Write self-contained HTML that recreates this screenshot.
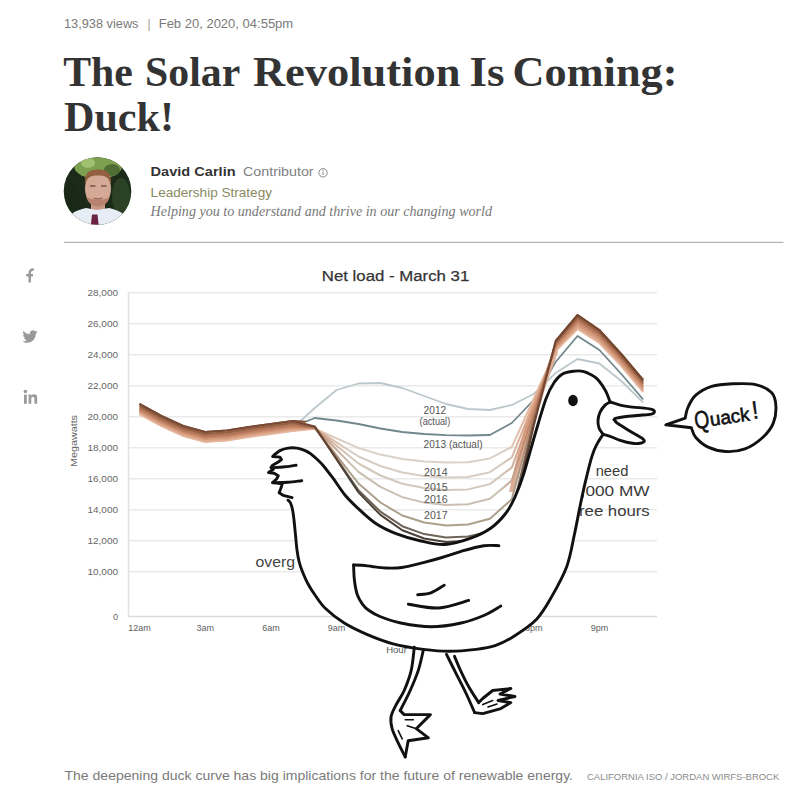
<!DOCTYPE html>
<html><head><meta charset="utf-8"><style>
html,body{margin:0;padding:0;background:#fff;width:795px;height:800px;overflow:hidden}
svg{display:block}
</style></head><body>
<svg width="795" height="800" viewBox="0 0 795 800">
<g font-family="'Liberation Sans', sans-serif">
<text x="64" y="28.3" font-size="12" fill="#7a7a7a" textLength="74.5" lengthAdjust="spacingAndGlyphs">13,938 views</text>
<text x="147.6" y="28.3" font-size="12" fill="#9a9a9a">|</text>
<text x="158.7" y="28.3" font-size="12" fill="#7a7a7a" textLength="134.5" lengthAdjust="spacingAndGlyphs">Feb 20, 2020, 04:55pm</text>
<g font-family="'Liberation Serif', serif" font-weight="bold" font-size="42" fill="#333"><text x="63.2" y="85.8" textLength="69.6" lengthAdjust="spacingAndGlyphs">The</text><text x="145.0" y="85.8" textLength="95.2" lengthAdjust="spacingAndGlyphs">Solar</text><text x="253.0" y="85.8" textLength="207.4" lengthAdjust="spacingAndGlyphs">Revolution</text><text x="469.6" y="85.8" textLength="35" lengthAdjust="spacingAndGlyphs">Is</text><text x="512.6" y="85.8" textLength="164.8" lengthAdjust="spacingAndGlyphs">Coming:</text></g>
<text x="64" y="131.3" font-family="'Liberation Serif', serif" font-weight="bold" font-size="42" fill="#333" textLength="110" lengthAdjust="spacingAndGlyphs">Duck!</text>
<text x="150.6" y="176" font-size="13" font-weight="bold" fill="#333" textLength="85" lengthAdjust="spacingAndGlyphs">David Carlin</text>
<text x="243" y="176" font-size="13" fill="#808080" textLength="70.6" lengthAdjust="spacingAndGlyphs">Contributor</text>
<circle cx="323" cy="172.8" r="4.2" fill="none" stroke="#888" stroke-width="1"/>
<line x1="323" y1="171.5" x2="323" y2="175" stroke="#888" stroke-width="1"/>
<circle cx="323" cy="170.2" r="0.6" fill="#888"/>
<text x="150.6" y="196.5" font-size="13" fill="#8a8a62" textLength="121.4" lengthAdjust="spacingAndGlyphs">Leadership Strategy</text>
<text x="150.6" y="216" font-family="'Liberation Serif', serif" font-style="italic" font-size="14" fill="#777" textLength="341.4" lengthAdjust="spacingAndGlyphs">Helping you to understand and thrive in our changing world</text>
<line x1="64" y1="242.4" x2="783.5" y2="242.4" stroke="#b4b4b4" stroke-width="1.3"/>
<text x="64.5" y="780" font-size="12.2" fill="#7a7a7a" textLength="508.5" lengthAdjust="spacingAndGlyphs">The deepening duck curve has big implications for the future of renewable energy.</text>
<text x="587" y="780" font-size="9" fill="#8a8a8a" textLength="192.3" lengthAdjust="spacingAndGlyphs">CALIFORNIA ISO / JORDAN WIRFS-BROCK</text>
</g>
<!-- avatar -->
<defs><clipPath id="av"><circle cx="97.5" cy="191" r="33.8"/></clipPath></defs>
<g clip-path="url(#av)">
<rect x="60" y="155" width="76" height="74" fill="#1c2a19"/>
<ellipse cx="98" cy="166" rx="24" ry="13" fill="#7c9f50"/>
<ellipse cx="88" cy="163" rx="7" ry="5" fill="#a0c070"/>
<ellipse cx="112" cy="170" rx="8" ry="6" fill="#4e6e36"/>
<ellipse cx="121" cy="196" rx="9" ry="18" fill="#2c4226"/>
<ellipse cx="72" cy="198" rx="7" ry="16" fill="#1a2818"/>
<rect x="91" y="200" width="14" height="14" fill="#c99888"/>
<path d="M60,236 C62,218 72,211 86,208 L97,210 L109,208 C123,211 132,218 135,236Z" fill="#e6edf5"/>
<ellipse cx="98" cy="188.5" rx="13" ry="17.5" fill="#d4a996"/><path d="M86,196 C88,204 93,206.5 98,206.5 C103,206.5 108,204 110,196 C106,201 90,201 86,196Z" fill="#b98270"/>
<path d="M85,184 C84,172 90,169.5 98,169.5 C106,169.5 112,172 111,184 C109,177 105,175.5 98,175.5 C91,175.5 87,177 85,184Z" fill="#93603f"/>
<path d="M90,186 h5.5 M101,186 h5.5" stroke="#7a5444" stroke-width="1.3"/>
<path d="M93.5,198 q4.5,1.8 9,0" stroke="#8a5a4a" stroke-width="1.1" fill="none"/>
<path d="M92,214.5 L97.5,214.5 L99,228 L90.5,228Z" fill="#6a2441"/>
</g>
<!-- social icons -->
<g fill="#9a9a9a">
<path d="M29.7,282.6 V273.6 C29.7,270.6 30.9,269.3 33.8,269.5 M26.2,275.3 H33" stroke="#9a9a9a" stroke-width="2.5" fill="none"/>
<path transform="translate(30.5 336.5) scale(1.07) translate(-30.5 -336.5)" d="M37,332 c-0.5,0.3 -1.1,0.4 -1.6,0.5 c0.6,-0.4 1,-0.9 1.2,-1.6 c-0.5,0.3 -1.1,0.6 -1.8,0.7 c-0.5,-0.6 -1.3,-0.9 -2.1,-0.9 c-1.6,0 -2.9,1.3 -2.9,2.9 c0,0.2 0,0.4 0.1,0.7 c-2.4,-0.1 -4.6,-1.3 -6,-3 c-0.3,0.4 -0.4,0.9 -0.4,1.5 c0,1 0.5,1.9 1.3,2.4 c-0.5,0 -0.9,-0.1 -1.3,-0.4 c0,1.4 1,2.6 2.3,2.9 c-0.4,0.1 -0.9,0.2 -1.3,0.1 c0.4,1.2 1.4,2 2.7,2 c-1,0.8 -2.3,1.3 -3.6,1.3 c-0.2,0 -0.5,0 -0.7,0 c1.3,0.8 2.8,1.3 4.4,1.3 c5.3,0 8.2,-4.4 8.2,-8.2 l0,-0.4 c0.6,-0.4 1,-0.9 1.4,-1.5z"/>
<rect x="24" y="394.6" width="2.8" height="9.2"/><circle cx="25.4" cy="391.6" r="1.75"/><path d="M28.6,403.8 V394.6 H31.3 V395.9 C32,394.7 33.2,394.3 34.4,394.3 C36.3,394.3 37.2,395.6 37.2,397.9 V403.8 H34.4 V398.7 C34.4,397.4 33.9,396.7 32.8,396.7 C31.8,396.7 31.3,397.5 31.3,398.7 V403.8Z"/>
</g>
<g font-family="'Liberation Sans', sans-serif">
<line x1="128" y1="292.8" x2="657" y2="292.8" stroke="#eaeaea" stroke-width="1.6"/>
<text x="118" y="296.4" text-anchor="end" font-size="9.6" fill="#666" textLength="30.5" lengthAdjust="spacingAndGlyphs">28,000</text>
<line x1="128" y1="323.8" x2="657" y2="323.8" stroke="#eaeaea" stroke-width="1.6"/>
<text x="118" y="327.4" text-anchor="end" font-size="9.6" fill="#666" textLength="30.5" lengthAdjust="spacingAndGlyphs">26,000</text>
<line x1="128" y1="354.8" x2="657" y2="354.8" stroke="#eaeaea" stroke-width="1.6"/>
<text x="118" y="358.4" text-anchor="end" font-size="9.6" fill="#666" textLength="30.5" lengthAdjust="spacingAndGlyphs">24,000</text>
<line x1="128" y1="385.8" x2="657" y2="385.8" stroke="#eaeaea" stroke-width="1.6"/>
<text x="118" y="389.4" text-anchor="end" font-size="9.6" fill="#666" textLength="30.5" lengthAdjust="spacingAndGlyphs">22,000</text>
<line x1="128" y1="416.8" x2="657" y2="416.8" stroke="#eaeaea" stroke-width="1.6"/>
<text x="118" y="420.4" text-anchor="end" font-size="9.6" fill="#666" textLength="30.5" lengthAdjust="spacingAndGlyphs">20,000</text>
<line x1="128" y1="447.8" x2="657" y2="447.8" stroke="#eaeaea" stroke-width="1.6"/>
<text x="118" y="451.4" text-anchor="end" font-size="9.6" fill="#666" textLength="30.5" lengthAdjust="spacingAndGlyphs">18,000</text>
<line x1="128" y1="478.8" x2="657" y2="478.8" stroke="#eaeaea" stroke-width="1.6"/>
<text x="118" y="482.4" text-anchor="end" font-size="9.6" fill="#666" textLength="30.5" lengthAdjust="spacingAndGlyphs">16,000</text>
<line x1="128" y1="509.8" x2="657" y2="509.8" stroke="#eaeaea" stroke-width="1.6"/>
<text x="118" y="513.4" text-anchor="end" font-size="9.6" fill="#666" textLength="30.5" lengthAdjust="spacingAndGlyphs">14,000</text>
<line x1="128" y1="540.8" x2="657" y2="540.8" stroke="#eaeaea" stroke-width="1.6"/>
<text x="118" y="544.4" text-anchor="end" font-size="9.6" fill="#666" textLength="30.5" lengthAdjust="spacingAndGlyphs">12,000</text>
<line x1="128" y1="571.8" x2="657" y2="571.8" stroke="#eaeaea" stroke-width="1.6"/>
<text x="118" y="575.4" text-anchor="end" font-size="9.6" fill="#666" textLength="30.5" lengthAdjust="spacingAndGlyphs">10,000</text>
<line x1="128" y1="616.5" x2="657" y2="616.5" stroke="#dcdcdc" stroke-width="1.6"/>
<line x1="128.5" y1="292" x2="128.5" y2="617" stroke="#e2e2e2" stroke-width="1.6"/>
<text x="118" y="620" text-anchor="end" font-size="9" fill="#666">0</text>
<text x="139.5" y="630.8" text-anchor="middle" font-size="9" fill="#606060">12am</text>
<text x="205.2" y="630.8" text-anchor="middle" font-size="9" fill="#606060">3am</text>
<text x="270.9" y="630.8" text-anchor="middle" font-size="9" fill="#606060">6am</text>
<text x="336.6" y="630.8" text-anchor="middle" font-size="9" fill="#606060">9am</text>
<text x="402.3" y="630.8" text-anchor="middle" font-size="9" fill="#606060">12pm</text>
<text x="468.0" y="630.8" text-anchor="middle" font-size="9" fill="#606060">3pm</text>
<text x="533.7" y="630.8" text-anchor="middle" font-size="9" fill="#606060">6pm</text>
<text x="599.4" y="630.8" text-anchor="middle" font-size="9" fill="#606060">9pm</text>
<text x="396.5" y="652.5" text-anchor="middle" font-size="9.5" fill="#555">Hour</text>
<text transform="translate(77 441) rotate(-90)" text-anchor="middle" font-size="9.5" fill="#666" textLength="52" lengthAdjust="spacingAndGlyphs">Megawatts</text>
<text x="321.8" y="281.3" font-size="15.5" fill="#333" stroke="#333" stroke-width="0.25" textLength="147.5" lengthAdjust="spacingAndGlyphs">Net load - March 31</text>

<defs>
<linearGradient id="lg0" gradientUnits="userSpaceOnUse" x1="139" y1="0" x2="644" y2="0"><stop offset="0" stop-color="#e6b8a0"/><stop offset="0.33" stop-color="#e6b8a0"/><stop offset="0.42" stop-color="#d8d2ca"/><stop offset="0.715" stop-color="#d8d2ca"/><stop offset="0.765" stop-color="#e6b8a0"/><stop offset="1" stop-color="#e6b8a0"/></linearGradient>
<linearGradient id="lg1" gradientUnits="userSpaceOnUse" x1="139" y1="0" x2="644" y2="0"><stop offset="0" stop-color="#dca68a"/><stop offset="0.33" stop-color="#dca68a"/><stop offset="0.42" stop-color="#d6cec4"/><stop offset="0.715" stop-color="#d6cec4"/><stop offset="0.765" stop-color="#dca68a"/><stop offset="1" stop-color="#dca68a"/></linearGradient>
<linearGradient id="lg2" gradientUnits="userSpaceOnUse" x1="139" y1="0" x2="644" y2="0"><stop offset="0" stop-color="#d29678"/><stop offset="0.33" stop-color="#d29678"/><stop offset="0.42" stop-color="#d2c8bc"/><stop offset="0.715" stop-color="#d2c8bc"/><stop offset="0.765" stop-color="#d29678"/><stop offset="1" stop-color="#d29678"/></linearGradient>
<linearGradient id="lg3" gradientUnits="userSpaceOnUse" x1="139" y1="0" x2="644" y2="0"><stop offset="0" stop-color="#c48466"/><stop offset="0.33" stop-color="#c48466"/><stop offset="0.42" stop-color="#cac0b2"/><stop offset="0.715" stop-color="#cac0b2"/><stop offset="0.765" stop-color="#c48466"/><stop offset="1" stop-color="#c48466"/></linearGradient>
<linearGradient id="lg4" gradientUnits="userSpaceOnUse" x1="139" y1="0" x2="644" y2="0"><stop offset="0" stop-color="#b07456"/><stop offset="0.33" stop-color="#b07456"/><stop offset="0.42" stop-color="#aca08c"/><stop offset="0.74" stop-color="#aca08c"/><stop offset="0.8" stop-color="#b07456"/><stop offset="1" stop-color="#b07456"/></linearGradient>
<linearGradient id="lg5" gradientUnits="userSpaceOnUse" x1="139" y1="0" x2="644" y2="0"><stop offset="0" stop-color="#945e42"/><stop offset="0.33" stop-color="#945e42"/><stop offset="0.42" stop-color="#6e6458"/><stop offset="0.74" stop-color="#6e6458"/><stop offset="0.8" stop-color="#945e42"/><stop offset="1" stop-color="#945e42"/></linearGradient>
<linearGradient id="lg6" gradientUnits="userSpaceOnUse" x1="139" y1="0" x2="644" y2="0"><stop offset="0" stop-color="#744632"/><stop offset="0.33" stop-color="#744632"/><stop offset="0.42" stop-color="#4a4038"/><stop offset="0.74" stop-color="#4a4038"/><stop offset="0.8" stop-color="#744632"/><stop offset="1" stop-color="#744632"/></linearGradient>
</defs>
<path d="M139.5,411.0 L161.4,423.0 L183.3,433.0 L205.2,439.0 L227.1,437.5 L249.0,434.0 L270.9,431.0 L292.8,428.0 L314.7,408.0 L336.6,390.0 L358.5,383.5 L380.4,383.0 L402.3,388.0 L424.2,396.0 L446.1,404.0 L468.0,409.0 L489.9,410.0 L511.8,405.0 L533.7,394.0 L555.6,373.0 L577.5,359.0 L599.4,363.5 L621.3,381.0 L643.2,402.5" stroke="#bcc8cc" stroke-width="1.8" fill="none" stroke-linejoin="round"/>
<path d="M139.5,410.0 L161.4,422.0 L183.3,432.0 L205.2,438.0 L227.1,436.5 L249.0,433.0 L270.9,430.0 L292.8,427.0 L314.7,418.0 L336.6,420.5 L358.5,424.0 L380.4,428.5 L402.3,432.0 L424.2,434.0 L446.1,435.2 L468.0,435.5 L489.9,435.0 L511.8,423.0 L533.7,400.0 L555.6,362.0 L577.5,336.0 L599.4,350.0 L621.3,374.0 L643.2,399.5" stroke="#72878c" stroke-width="1.8" fill="none" stroke-linejoin="round"/>
<path d="M139.5,403.5 L161.4,415.5 L183.3,425.5 L205.2,431.5 L227.1,430.0 L249.0,426.5 L270.9,423.5 L292.8,420.5 L305.9,421.0 L305.9,430.0 L292.8,431.5 L270.9,434.5 L249.0,437.5 L227.1,441.0 L205.2,442.5 L183.3,436.5 L161.4,426.5 L139.5,414.5Z" fill="#d49a7c"/>
<path d="M540.3,390.0 L555.6,341.0 L577.5,315.0 L599.4,330.0 L621.3,354.0 L643.2,380.0 L643.2,392.0 L621.3,366.0 L599.4,343.0 L577.5,329.0 L555.6,351.0 L540.3,405.0Z" fill="#d8a088"/>
<path d="M509.0,492.0 L515.0,465.0 L521.0,440.0 L531.0,405.0 L545.0,372.0 L556.5,341.0 L558.0,352.0 L548.0,380.0 L537.0,410.0 L527.0,442.0 L519.0,470.0 L514.0,492.0Z" fill="#dcae98"/>
<path d="M139.5,414.0 L161.4,426.0 L183.3,436.0 L205.2,442.0 L227.1,440.5 L249.0,437.0 L270.9,434.0 L292.8,431.0 L314.7,428.7 L336.6,438.4 L358.5,448.0 L380.4,454.6 L402.3,459.1 L424.2,461.5 L446.1,462.5 L468.0,462.2 L489.9,458.4 L511.8,447.0 L533.7,399.0 L555.6,351.0 L577.5,329.0 L599.4,343.0 L621.3,366.0 L643.2,392.0" stroke="url(#lg0)" stroke-width="2" fill="none" stroke-linejoin="round"/>
<path d="M139.5,412.5 L161.4,424.5 L183.3,434.5 L205.2,440.5 L227.1,439.0 L249.0,435.5 L270.9,432.5 L292.8,429.5 L314.7,428.4 L336.6,442.4 L358.5,456.5 L380.4,466.0 L402.3,472.5 L424.2,476.0 L446.1,477.5 L468.0,477.0 L489.9,472.2 L511.8,457.3 L533.7,403.5 L555.6,349.3 L577.5,326.7 L599.4,340.8 L621.3,364.0 L643.2,390.0" stroke="url(#lg1)" stroke-width="2" fill="none" stroke-linejoin="round"/>
<path d="M139.5,411.0 L161.4,423.0 L183.3,433.0 L205.2,439.0 L227.1,437.5 L249.0,434.0 L270.9,431.0 L292.8,428.0 L314.7,428.1 L336.6,445.8 L358.5,463.5 L380.4,475.5 L402.3,483.7 L424.2,488.1 L446.1,490.0 L468.0,489.4 L489.9,484.1 L511.8,467.5 L533.7,408.0 L555.6,347.7 L577.5,324.3 L599.4,338.7 L621.3,362.0 L643.2,388.0" stroke="url(#lg2)" stroke-width="2" fill="none" stroke-linejoin="round"/>
<path d="M139.5,409.5 L161.4,421.5 L183.3,431.5 L205.2,437.5 L227.1,436.0 L249.0,432.5 L270.9,429.5 L292.8,426.5 L314.7,427.8 L336.6,449.8 L358.5,471.9 L380.4,486.9 L402.3,497.1 L424.2,502.6 L446.1,505.0 L468.0,504.2 L489.9,498.7 L511.8,480.6 L533.7,412.5 L555.6,346.0 L577.5,322.0 L599.4,336.5 L621.3,360.0 L643.2,386.0" stroke="url(#lg3)" stroke-width="2" fill="none" stroke-linejoin="round"/>
<path d="M139.5,408.0 L161.4,420.0 L183.3,430.0 L205.2,436.0 L227.1,434.5 L249.0,431.0 L270.9,428.0 L292.8,425.0 L314.7,427.6 L336.6,455.6 L358.5,483.5 L380.4,502.5 L402.3,515.5 L424.2,522.5 L446.1,525.5 L468.0,524.5 L489.9,518.8 L511.8,499.2 L533.7,417.0 L555.6,344.3 L577.5,319.7 L599.4,334.3 L621.3,358.0 L643.2,384.0" stroke="url(#lg4)" stroke-width="2" fill="none" stroke-linejoin="round"/>
<path d="M139.5,406.0 L161.4,418.0 L183.3,428.0 L205.2,434.0 L227.1,432.5 L249.0,429.0 L270.9,426.0 L292.8,423.0 L314.7,427.1 L336.6,458.6 L358.5,490.2 L380.4,511.6 L402.3,526.2 L424.2,534.1 L446.1,537.5 L468.0,536.4 L489.9,531.5 L511.8,513.1 L533.7,421.5 L555.6,342.7 L577.5,317.3 L599.4,332.2 L621.3,356.0 L643.2,382.0" stroke="url(#lg5)" stroke-width="2" fill="none" stroke-linejoin="round"/>
<path d="M139.5,404.0 L161.4,416.0 L183.3,426.0 L205.2,432.0 L227.1,430.5 L249.0,427.0 L270.9,424.0 L292.8,421.0 L314.7,426.4 L336.6,459.4 L358.5,492.4 L380.4,514.9 L402.3,530.2 L424.2,538.5 L446.1,542.0 L468.0,540.8 L489.9,537.3 L511.8,521.9 L533.7,426.0 L555.6,341.0 L577.5,315.0 L599.4,330.0 L621.3,354.0 L643.2,380.0" stroke="url(#lg6)" stroke-width="2" fill="none" stroke-linejoin="round"/>
<path d="M139.5,403.8 L161.4,415.8 L183.3,425.8 L205.2,431.8 L227.1,430.3 L249.0,426.8 L270.9,423.8 L292.8,420.8 L305.9,421.5" stroke="#7a4c36" stroke-width="1.6" fill="none"/>
<path d="M555.6,341.0 L577.5,315.0 L599.4,330.0 L621.3,354.0 L643.2,380.0" stroke="#74462e" stroke-width="1.8" fill="none" stroke-linejoin="round"/>


<g fill="#555" font-size="10.5">
<text x="423.6" y="413.7" textLength="22.6" lengthAdjust="spacingAndGlyphs">2012</text>
<text x="419.6" y="425" textLength="30.6" lengthAdjust="spacingAndGlyphs">(actual)</text>
<text x="423.6" y="448.2" textLength="59" lengthAdjust="spacingAndGlyphs">2013 (actual)</text>
<text x="424" y="476.4" textLength="23.6" lengthAdjust="spacingAndGlyphs">2014</text>
<text x="424" y="490.9" textLength="23.6" lengthAdjust="spacingAndGlyphs">2015</text>
<text x="424" y="502.7" textLength="23.6" lengthAdjust="spacingAndGlyphs">2016</text>
<text x="424" y="518.9" textLength="23.6" lengthAdjust="spacingAndGlyphs">2017</text>
</g>
<text x="255.6" y="567" font-size="15" fill="#444" textLength="39.5" lengthAdjust="spacingAndGlyphs">overg</text>
<text x="595.7" y="475.8" font-size="15.5" fill="#3a3a3a" textLength="32.7" lengthAdjust="spacingAndGlyphs">need</text>
<text x="580.6" y="496" font-size="15.5" fill="#3a3a3a" textLength="69" lengthAdjust="spacingAndGlyphs">,000 MW</text>
<text x="579" y="516" font-size="15.5" fill="#3a3a3a" textLength="70.7" lengthAdjust="spacingAndGlyphs">ree hours</text>


<g fill="none" stroke="#111" stroke-width="2.9" stroke-linecap="round" stroke-linejoin="round">
<path d="M274.2,455.0 L279.9,450.6 L288.0,448.1 L297.0,448.1 L305.1,450.6 L310.8,453.8 L316.5,458.8 L322.9,465.2 L333.0,478.2 L345.6,495.8 L358.0,508.4 L375.8,523.5 L396.0,533.6 L421.0,541.0 L445.0,544.5 L470.8,538.1 L491.0,528.0 L506.0,513.0 L515.0,497.0 L524.0,473.0 L535.0,434.5 L546.0,398.8 L554.3,382.3 L562.5,374.0 L573.5,371.3 L583.0,371.4 L595.7,377.7 L605.1,390.0 L610.1,402.0 L620.2,405.1 L632.3,407.1 L644.3,408.1 L652.4,409.6 L654.4,412.1 L651.4,414.1 L640.3,415.2 L628.2,416.2 L616.2,418.2 L614.1,419.5 L617.2,423.2 L625.2,428.2 L635.3,434.3 L642.3,438.3 L644.3,441.3 L640.3,443.3 L632.3,443.3 L620.2,440.3 L610.1,436.3 L603.1,434.3 L598.0,442.3 L594.0,450.4 L590.6,460.8 L585.6,480.9 L580.6,503.5 L574.3,535.0 L566.8,566.4 L551.7,596.6 L536.6,619.2 L514.0,636.2 L495.1,645.7 L476.2,649.4 L449.8,651.3 L423.4,649.4 L393.2,643.8 L366.8,634.3 L344.2,623.0 L325.5,608.5 L315.0,595.0 L307.5,583.0 L302.2,571.0 L299.2,562.0 L297.0,550.0 L295.5,535.0 L294.0,520.0 L292.5,509.5 L290.5,503.0 L288.0,500.2 L283.1,495.3 L279.1,492.8 L280.7,488.8 L282.3,483.9 L272.6,482.5 L276.6,479.0 L278.3,475.8 L274.2,473.3 L268.5,472.5 L273.4,469.3 L270.9,467.6 L272.6,465.2 L278.3,462.0 L281.5,459.5 L279.9,457.1 L272.6,456.5 L274.2,455.0Z" fill="#fff" stroke="none"/>
<path d="M414.3,647.2 L411.2,670.4 L404.2,690.5 L396.2,704.6 L391.1,716.6 L392.1,728.7 L398.2,742.8 L405.2,756.9 L405.2,756.9 L408.2,740.8 L428.4,737.8 L416.3,728.7 L430.4,714.6 L404.2,714.6 L400.2,710.6 L400.2,710.6 L410.2,690.5 L418.3,670.4 L423.3,650.2Z" fill="#fff" stroke="none"/>
<path d="M446.5,654.3 L456.5,674.4 L466.6,694.5 L474.6,712.6 L474.6,712.6 L482.7,713.6 L500.8,708.6 L510.8,702.6 L498.0,700.5 L514.9,696.5 L500.0,694.0 L510.8,688.5 L492.7,690.5 L482.7,698.5 L478.7,702.6 L478.7,702.6 L468.6,686.5 L460.5,670.4 L454.5,656.3Z" fill="#fff" stroke="none"/>
<path d="M274.2,455.0 C275.1,454.3 277.6,451.8 279.9,450.6 C282.2,449.5 285.1,448.5 288.0,448.1 C290.9,447.7 294.1,447.7 297.0,448.1 C299.9,448.5 302.8,449.7 305.1,450.6 C307.4,451.6 308.9,452.4 310.8,453.8 C312.7,455.2 314.5,456.9 316.5,458.8 C318.5,460.7 320.1,462.0 322.9,465.2 C325.6,468.4 329.2,473.1 333.0,478.2 C336.8,483.3 341.4,490.8 345.6,495.8 C349.8,500.8 353.0,503.8 358.0,508.4 C363.0,513.0 369.5,519.3 375.8,523.5 C382.1,527.7 388.5,530.7 396.0,533.6 C403.5,536.5 412.8,539.2 421.0,541.0 C429.2,542.8 436.7,545.0 445.0,544.5 C453.3,544.0 463.1,540.9 470.8,538.1 C478.5,535.4 485.1,532.2 491.0,528.0 C496.9,523.8 502.0,518.2 506.0,513.0 C510.0,507.8 512.0,503.7 515.0,497.0 C518.0,490.3 520.7,483.4 524.0,473.0 C527.3,462.6 531.3,446.9 535.0,434.5 C538.7,422.1 542.8,407.5 546.0,398.8 C549.2,390.1 551.5,386.4 554.3,382.3 C557.0,378.2 559.3,375.8 562.5,374.0 C565.7,372.2 570.1,371.7 573.5,371.3 C576.9,370.9 579.3,370.3 583.0,371.4 C586.7,372.5 592.0,374.6 595.7,377.7 C599.4,380.8 602.7,385.9 605.1,390.0 C607.5,394.1 609.3,400.0 610.1,402.0"/>
<path d="M610.1,402.0 C611.8,402.5 616.5,404.2 620.2,405.1 C623.9,406.0 628.3,406.6 632.3,407.1 C636.3,407.6 640.9,407.7 644.3,408.1 C647.6,408.5 650.7,408.9 652.4,409.6 C654.1,410.3 654.6,411.4 654.4,412.1 C654.2,412.9 653.8,413.6 651.4,414.1 C649.0,414.6 644.2,414.9 640.3,415.2 C636.4,415.5 632.2,415.7 628.2,416.2 C624.2,416.7 618.6,417.6 616.2,418.2 C613.9,418.8 614.5,419.3 614.1,419.5"/>
<path d="M614.1,419.5 C614.6,420.1 615.4,421.8 617.2,423.2 C619.1,424.6 622.2,426.3 625.2,428.2 C628.2,430.1 632.4,432.6 635.3,434.3 C638.1,436.0 640.8,437.1 642.3,438.3 C643.8,439.5 644.6,440.5 644.3,441.3 C644.0,442.1 642.3,443.0 640.3,443.3 C638.3,443.6 635.6,443.8 632.3,443.3 C628.9,442.8 623.9,441.5 620.2,440.3 C616.5,439.1 613.0,437.3 610.1,436.3 C607.2,435.3 604.3,434.6 603.1,434.3"/>
<path d="M610.1,402.0 C609.3,402.5 606.8,403.4 605.1,405.1 C603.4,406.8 601.3,409.6 600.1,412.1 C598.9,414.6 598.2,417.5 598.0,420.2 C597.8,422.9 598.2,425.8 599.1,428.2 C600.0,430.6 602.4,433.3 603.1,434.3"/>
<path d="M603.1,434.3 C602.2,435.6 599.5,439.6 598.0,442.3 C596.5,445.0 595.2,447.3 594.0,450.4 C592.8,453.5 592.0,455.7 590.6,460.8 C589.2,465.9 587.3,473.8 585.6,480.9 C583.9,488.0 582.5,494.5 580.6,503.5 C578.7,512.5 576.6,524.5 574.3,535.0 C572.0,545.5 570.6,556.1 566.8,566.4 C563.0,576.7 556.7,587.8 551.7,596.6 C546.7,605.4 542.9,612.6 536.6,619.2 C530.3,625.8 520.9,631.8 514.0,636.2 C507.1,640.6 501.4,643.5 495.1,645.7 C488.8,647.9 483.8,648.5 476.2,649.4 C468.6,650.3 458.6,651.3 449.8,651.3 C441.0,651.3 432.8,650.6 423.4,649.4 C414.0,648.1 402.6,646.3 393.2,643.8 C383.8,641.3 375.0,637.8 366.8,634.3 C358.6,630.8 351.1,627.3 344.2,623.0 C337.3,618.7 330.4,613.2 325.5,608.5 C320.6,603.8 318.0,599.2 315.0,595.0 C312.0,590.8 309.6,587.0 307.5,583.0 C305.4,579.0 303.6,574.5 302.2,571.0 C300.8,567.5 300.1,565.5 299.2,562.0 C298.3,558.5 297.6,554.5 297.0,550.0 C296.4,545.5 296.0,540.0 295.5,535.0 C295.0,530.0 294.5,524.2 294.0,520.0 C293.5,515.8 293.1,512.3 292.5,509.5 C291.9,506.7 291.2,504.6 290.5,503.0 C289.8,501.4 288.4,500.7 288.0,500.2"/>
<path d="M274.2,455.0 L272.6,456.5 L279.9,457.1 L281.5,459.5 L278.3,462.0 L272.6,465.2 L270.9,467.6 L273.4,469.3 L268.5,472.5 L274.2,473.3 L278.3,475.8 L276.6,479.0 L272.6,482.5 L282.3,483.9 L280.7,488.8 L279.1,492.8 L283.1,495.3 L292.1,497.7"/>
<path d="M353.6,565.0 C355.0,565.0 358.9,565.0 362.0,565.2 C365.1,565.5 368.0,566.0 372.0,566.5 C376.0,567.0 381.0,567.8 386.0,568.0 C391.0,568.2 395.8,568.4 402.0,567.5 C408.2,566.6 416.7,564.3 423.4,562.6 C430.1,560.9 435.7,559.4 442.0,557.5 C448.3,555.6 454.1,553.3 461.1,551.3 C468.1,549.3 477.5,546.6 483.8,545.7 C490.1,544.8 496.4,545.7 498.9,545.7"/>
<path d="M353.6,565.0 C353.7,567.5 353.8,575.0 354.4,580.0 C355.0,585.0 356.0,591.0 357.4,595.0 C358.8,599.0 360.7,601.7 362.6,604.3 C364.5,606.9 366.1,608.5 369.0,610.5 C371.9,612.5 374.7,614.4 380.0,616.5 C385.3,618.6 392.3,621.3 400.8,623.0 C409.3,624.7 420.9,626.8 431.0,626.8 C441.1,626.8 452.3,624.9 461.1,623.0 C469.9,621.1 477.2,618.3 483.8,615.5 C490.4,612.7 498.0,607.6 500.8,606.0"/>
<path d="M417.7,594.7 C419.9,594.4 426.6,594.4 431.0,592.8 C435.4,591.2 442.0,586.5 444.2,585.3"/>
<path d="M408.3,604.2 C413.3,604.8 428.4,608.6 438.5,608.0 C448.6,607.4 463.7,601.7 468.7,600.4"/>
<path d="M272.6,467.6 C274.7,467.5 281.1,467.2 285.0,466.8 C288.9,466.4 294.2,465.5 296.1,465.2"/>
<path d="M272.6,482.7 C275.2,482.6 283.1,482.5 288.0,482.2 C292.9,481.9 299.5,480.9 301.8,480.7"/>
<path d="M414.3,647.2 C413.8,651.1 412.9,663.2 411.2,670.4 C409.5,677.6 406.7,684.8 404.2,690.5 C401.7,696.2 398.4,700.2 396.2,704.6 C394.0,709.0 391.8,712.6 391.1,716.6 C390.4,720.6 390.9,724.3 392.1,728.7 C393.3,733.1 396.0,738.1 398.2,742.8 C400.4,747.5 404.0,754.5 405.2,756.9"/>
<path d="M405.2,756.9 L408.2,740.8 L428.4,737.8 L416.3,728.7 L430.4,714.6 L404.2,714.6 L400.2,710.6"/>
<path d="M400.2,710.6 C401.9,707.2 407.2,697.2 410.2,690.5 C413.2,683.8 416.1,677.1 418.3,670.4 C420.5,663.7 422.5,653.6 423.3,650.2"/>
<path d="M446.5,654.3 C448.2,657.6 453.1,667.7 456.5,674.4 C459.9,681.1 463.6,688.1 466.6,694.5 C469.6,700.9 473.3,709.6 474.6,712.6"/>
<path d="M474.6,712.6 L482.7,713.6 L500.8,708.6 L510.8,702.6 L498.0,700.5 L514.9,696.5 L500.0,694.0 L510.8,688.5 L492.7,690.5 L482.7,698.5 L478.7,702.6"/>
<path d="M478.7,702.6 C477.0,699.9 471.6,691.9 468.6,686.5 C465.6,681.1 462.9,675.4 460.5,670.4 C458.1,665.4 455.5,658.6 454.5,656.3"/>
<path d="M405.2,719.7 L413.3,719.7 M407.2,725.7 L417.3,729.1 M398.2,730.7 L402.2,738.8 M482.7,704.6 L492.7,700.5 M488,707 L497,704" stroke-width="1.6"/>
<ellipse cx="573" cy="400.5" rx="4.8" ry="5.8" fill="#111" stroke="none"/>
<path d="M685.2,418.1 C685.7,416.3 686.1,411.3 687.9,407.5 C689.7,403.7 691.8,398.7 695.8,395.2 C699.8,391.7 705.5,388.3 711.6,386.4 C717.8,384.5 725.4,384.1 732.7,383.8 C740.0,383.5 749.1,383.1 755.6,384.6 C762.1,386.1 768.1,389.1 771.5,392.6 C774.9,396.1 775.6,400.7 775.9,405.8 C776.2,410.9 775.4,418.1 773.2,423.4 C771.0,428.7 767.4,433.2 762.7,437.5 C758.0,441.8 751.2,446.6 745.0,448.9 C738.8,451.2 731.9,451.8 725.7,451.5 C719.6,451.2 713.1,449.4 708.1,447.1 C703.1,444.8 698.6,440.7 695.8,437.5 C693.0,434.3 692.1,429.4 691.4,427.8 L665.8,424.8 L685.2,418.1" fill="#fff"/>
</g>
<g font-family="'Liberation Sans', sans-serif" fill="#111" stroke="#111" stroke-width="0.6" transform="rotate(-8 725 420)">
<text x="694.5" y="425" font-size="25" textLength="15" lengthAdjust="spacingAndGlyphs">Q</text>
<text x="710" y="424" font-size="19" textLength="40" lengthAdjust="spacingAndGlyphs">uack</text>
<text x="753" y="423" font-size="25" textLength="6" lengthAdjust="spacingAndGlyphs">!</text>
</g>

</g>
</svg>
</body></html>
